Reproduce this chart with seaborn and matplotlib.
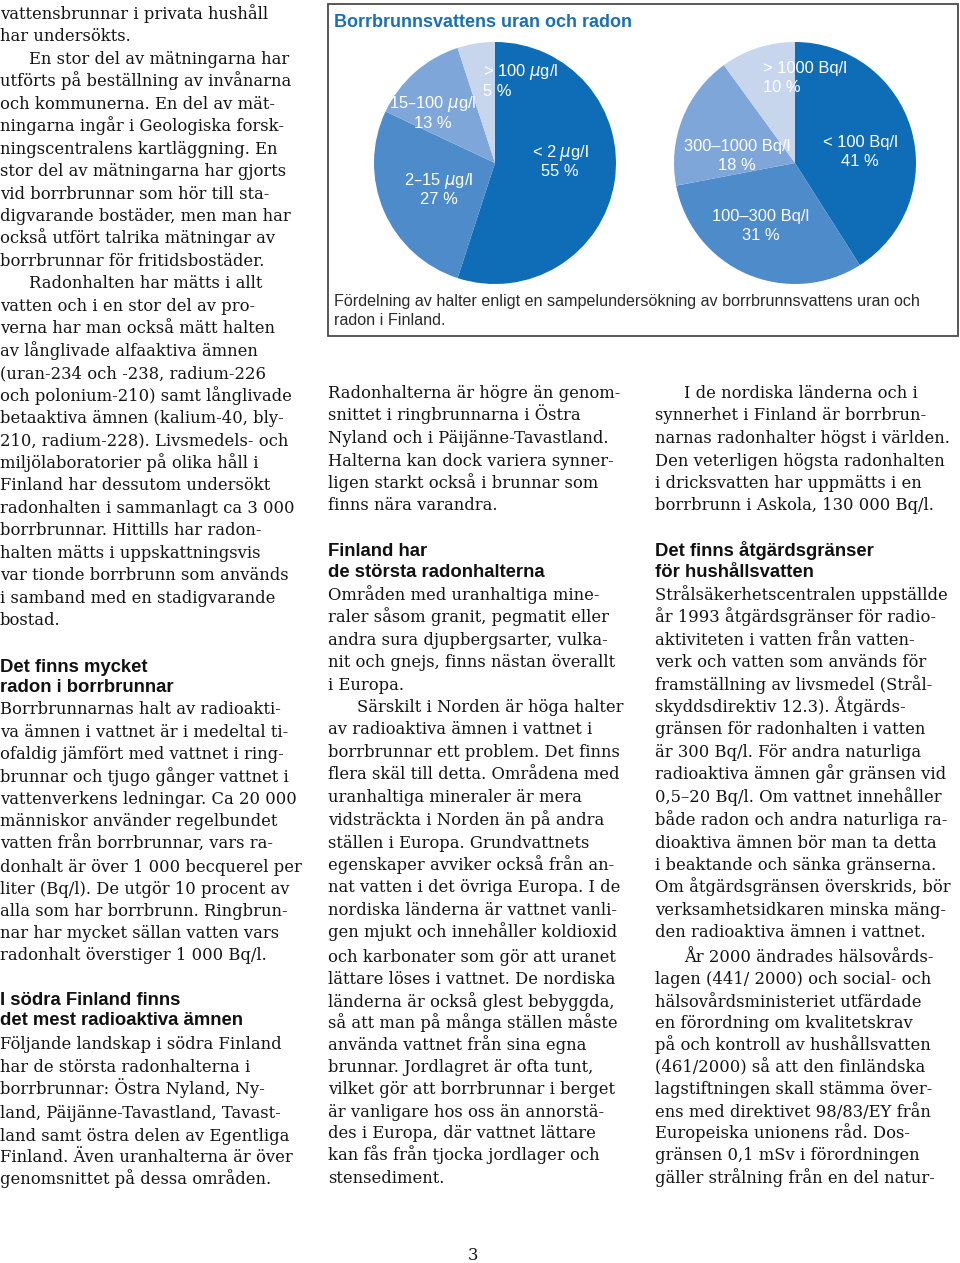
import matplotlib
matplotlib.use("Agg")
import matplotlib.pyplot as plt
import seaborn as sns
from matplotlib.patches import Rectangle

# ---------------- data ----------------
uran_labels = ["< 2 $\\mu$g/l", "2–15 $\\mu$g/l", "15–100 $\\mu$g/l", "> 100 $\\mu$g/l"]
uran_pct = [55, 27, 13, 5]
radon_labels = ["< 100 Bq/l", "100–300 Bq/l", "300–1000 Bq/l", "> 1000 Bq/l"]
radon_pct = [41, 31, 18, 10]
pie_colors = ["#0f6cb6", "#4d8bcb", "#7fa6d9", "#c7d6ec"]

chart_title = "Borrbrunnsvattens uran och radon"
caption = ["Fördelning av halter enligt en sampelundersökning av borrbrunnsvattens uran och",
           "radon i Finland."]

# ---------------- page text ----------------
left_body1 = [
    "vattensbrunnar i privata hushåll",
    "har undersökts.",
    "\tEn stor del av mätningarna har",
    "utförts på beställning av invånarna",
    "och kommunerna. En del av mät-",
    "ningarna ingår i Geologiska forsk-",
    "ningscentralens kartläggning. En",
    "stor del av mätningarna har gjorts",
    "vid borrbrunnar som hör till sta-",
    "digvarande bostäder, men man har",
    "också utfört talrika mätningar av",
    "borrbrunnar för fritidsbostäder.",
    "\tRadonhalten har mätts i allt",
    "vatten och i en stor del av pro-",
    "verna har man också mätt halten",
    "av långlivade alfaaktiva ämnen",
    "(uran-234 och -238, radium-226",
    "och polonium-210) samt långlivade",
    "betaaktiva ämnen (kalium-40, bly-",
    "210, radium-228). Livsmedels- och",
    "miljölaboratorier på olika håll i",
    "Finland har dessutom undersökt",
    "radonhalten i sammanlagt ca 3 000",
    "borrbrunnar. Hittills har radon-",
    "halten mätts i uppskattningsvis",
    "var tionde borrbrunn som används",
    "i samband med en stadigvarande",
    "bostad.",
]
left_head2 = ["Det finns mycket", "radon i borrbrunnar"]
left_body2 = [
    "Borrbrunnarnas halt av radioakti-",
    "va ämnen i vattnet är i medeltal ti-",
    "ofaldig jämfört med vattnet i ring-",
    "brunnar och tjugo gånger vattnet i",
    "vattenverkens ledningar. Ca 20 000",
    "människor använder regelbundet",
    "vatten från borrbrunnar, vars ra-",
    "donhalt är över 1 000 becquerel per",
    "liter (Bq/l). De utgör 10 procent av",
    "alla som har borrbrunn. Ringbrun-",
    "nar har mycket sällan vatten vars",
    "radonhalt överstiger 1 000 Bq/l.",
]
left_body2_y = [714, 736.5, 759, 781.5, 803.5, 826, 849, 871.5, 894, 916.5, 938.5, 960.5]
left_head3 = ["I södra Finland finns", "det mest radioaktiva ämnen"]
left_body3 = [
    "Följande landskap i södra Finland",
    "har de största radonhalterna i",
    "borrbrunnar: Östra Nyland, Ny-",
    "land, Päijänne-Tavastland, Tavast-",
    "land samt östra delen av Egentliga",
    "Finland. Även uranhalterna är över",
    "genomsnittet på dessa områden.",
]
left_body3_y = [1049, 1072.5, 1094, 1118, 1141, 1162, 1183.5]

top_rows = [398, 420.5, 443, 465.5, 488, 510.5]
head_rows = [556.5, 577]
rows = [600, 622, 645, 667, 689.5, 712, 734, 757, 779, 802, 825, 848, 870, 892,
        915, 937, 961.5, 983.5, 1007, 1028.5, 1050, 1072, 1093.5, 1117, 1138.5, 1160, 1183]

mid_top = [
    "Radonhalterna är högre än genom-",
    "snittet i ringbrunnarna i Östra",
    "Nyland och i Päijänne-Tavastland.",
    "Halterna kan dock variera synner-",
    "ligen starkt också i brunnar som",
    "finns nära varandra.",
]
mid_head = ["Finland har", "de största radonhalterna"]
mid_body = [
    "Områden med uranhaltiga mine-",
    "raler såsom granit, pegmatit eller",
    "andra sura djupbergsarter, vulka-",
    "nit och gnejs, finns nästan överallt",
    "i Europa.",
    "\tSärskilt i Norden är höga halter",
    "av radioaktiva ämnen i vattnet i",
    "borrbrunnar ett problem. Det finns",
    "flera skäl till detta. Områdena med",
    "uranhaltiga mineraler är mera",
    "vidsträckta i Norden än på andra",
    "ställen i Europa. Grundvattnets",
    "egenskaper avviker också från an-",
    "nat vatten i det övriga Europa. I de",
    "nordiska länderna är vattnet vanli-",
    "gen mjukt och innehåller koldioxid",
    "och karbonater som gör att uranet",
    "lättare löses i vattnet. De nordiska",
    "länderna är också glest bebyggda,",
    "så att man på många ställen måste",
    "använda vattnet från sina egna",
    "brunnar. Jordlagret är ofta tunt,",
    "vilket gör att borrbrunnar i berget",
    "är vanligare hos oss än annorstä-",
    "des i Europa, där vattnet lättare",
    "kan fås från tjocka jordlager och",
    "stensediment.",
]
right_top = [
    "\tI de nordiska länderna och i",
    "synnerhet i Finland är borrbrun-",
    "narnas radonhalter högst i världen.",
    "Den veterligen högsta radonhalten",
    "i dricksvatten har uppmätts i en",
    "borrbrunn i Askola, 130 000 Bq/l.",
]
right_head = ["Det finns åtgärdsgränser", "för hushållsvatten"]
right_body = [
    "Strålsäkerhetscentralen uppställde",
    "år 1993 åtgärdsgränser för radio-",
    "aktiviteten i vatten från vatten-",
    "verk och vatten som används för",
    "framställning av livsmedel (Strål-",
    "skyddsdirektiv 12.3). Åtgärds-",
    "gränsen för radonhalten i vatten",
    "är 300 Bq/l. För andra naturliga",
    "radioaktiva ämnen går gränsen vid",
    "0,5–20 Bq/l. Om vattnet innehåller",
    "både radon och andra naturliga ra-",
    "dioaktiva ämnen bör man ta detta",
    "i beaktande och sänka gränserna.",
    "Om åtgärdsgränsen överskrids, bör",
    "verksamhetsidkaren minska mäng-",
    "den radioaktiva ämnen i vattnet.",
    "\tÅr 2000 ändrades hälsovårds-",
    "lagen (441/ 2000) och social- och",
    "hälsovårdsministeriet utfärdade",
    "en förordning om kvalitetskrav",
    "på och kontroll av hushållsvatten",
    "(461/2000) så att den finländska",
    "lagstiftningen skall stämma över-",
    "ens med direktivet 98/83/EY från",
    "Europeiska unionens råd. Dos-",
    "gränsen 0,1 mSv i förordningen",
    "gäller strålning från en del natur-",
]

# ---------------- figure ----------------
sns.set_theme(style="white")
plt.rcParams["font.family"] = ["DejaVu Sans"]
W, H = 960, 1263
fig = plt.figure(figsize=(W / 100, H / 100), dpi=100)
fig.patch.set_facecolor("white")
renderer = fig.canvas.get_renderer()


def width_px(s, **kw):
    t = fig.text(0, 0, s, fontsize=10, **kw)
    w = t.get_window_extent(renderer=renderer).width
    t.remove()
    return w


def fit(s, target, **kw):
    return 10 * target / width_px(s, **kw)


SERIF = ["DejaVu Serif"]
SANS = ["Liberation Sans", "DejaVu Sans"]

body_fs = min(fit(s, 302, family=SERIF) for s in (
    "utförts på beställning av invånarna",
    "Om åtgärdsgränsen överskrids, bör",
    "narnas radonhalter högst i världen.",
    "donhalt är över 1 000 becquerel per",
    "Strålsäkerhetscentralen uppställde",
))
head_fs = fit("det mest radioaktiva ämnen", 245, family=SANS, weight="bold")
lab_fs = fit("300–1000 Bq/l", 107, family=SANS)
cap_fs = fit(caption[0], 587, family=SANS)
title_fs = fit(chart_title, 298, family=SANS, weight="bold")


def T(x, y, s, **kw):
    return fig.text(x / W, 1 - y / H, s, **kw)


def body(x0, lines, ys):
    for s, y in zip(lines, ys):
        x = x0
        if s.startswith("\t"):
            s = s[1:]
            x = x0 + 29
        T(x, y, s, family=SERIF, fontsize=body_fs, color="#141414", va="baseline", ha="left")


def head(x0, lines, ys):
    for s, y in zip(lines, ys):
        T(x0, y, s, family=SANS, weight="bold", fontsize=head_fs, color="#111111",
          va="baseline", ha="left")


# left column
body(0, left_body1, [19 + i * 22.45 for i in range(len(left_body1))])
head(0, left_head2, [671.5, 691.5])
body(0, left_body2, left_body2_y)
head(0, left_head3, [1005, 1025])
body(0, left_body3, left_body3_y)

# middle column
body(328, mid_top, top_rows)
head(328, mid_head, head_rows)
body(328, mid_body, rows)

# right column
body(655, right_top, top_rows)
head(655, right_head, head_rows)
body(655, right_body, rows)

# page number
T(473, 1260, "3", family=SERIF, fontsize=body_fs, color="#141414", va="baseline", ha="center")

# ---------------- chart box ----------------
fig.patches.append(Rectangle((328 / W, 1 - 336 / H), (958 - 328) / W, (336 - 4) / H,
                             transform=fig.transFigure, fill=False,
                             edgecolor="#4a4a4a", linewidth=1.3, zorder=1))
T(334, 27, chart_title, family=SANS, weight="bold", fontsize=title_fs, color="#1a70b8",
  va="baseline", ha="left")
T(334, 306, caption[0], family=SANS, fontsize=cap_fs, color="#2a2a2a", va="baseline", ha="left")
T(334, 325, caption[1], family=SANS, fontsize=cap_fs, color="#2a2a2a", va="baseline", ha="left")

R = 121


def pie_at(cx, cy, values):
    ax = fig.add_axes([(cx - R) / W, 1 - (cy + R) / H, 2 * R / W, 2 * R / H])
    ax.pie(values, colors=pie_colors, startangle=90, counterclock=False, radius=1,
           wedgeprops=dict(linewidth=0, edgecolor="none"))
    ax.set_xlim(-1, 1)
    ax.set_ylim(-1, 1)
    ax.set_aspect("equal")
    ax.axis("off")
    return ax


pie_at(495, 163, uran_pct)
pie_at(795, 163, radon_pct)

# labels: (x, y of first line, alignment)
uran_pos = [(560, 153, "center"), (439, 181, "center"), (433, 104, "center"), (483, 72, "left")]
radon_pos = [(860, 142, "center"), (761, 217, "center"), (737, 146, "center"), (763, 68, "left")]
for labels, pcts, pos in ((uran_labels, uran_pct, uran_pos), (radon_labels, radon_pct, radon_pos)):
    for lab, p, (x, y, ha) in zip(labels, pcts, pos):
        T(x, y, lab, family=SANS, fontsize=lab_fs, color="white", ha=ha, va="center", zorder=5)
        T(x, y + 19, f"{p} %", family=SANS, fontsize=lab_fs, color="white", ha=ha, va="center",
          zorder=5)

fig.savefig("out.png", dpi=100, facecolor="white")
